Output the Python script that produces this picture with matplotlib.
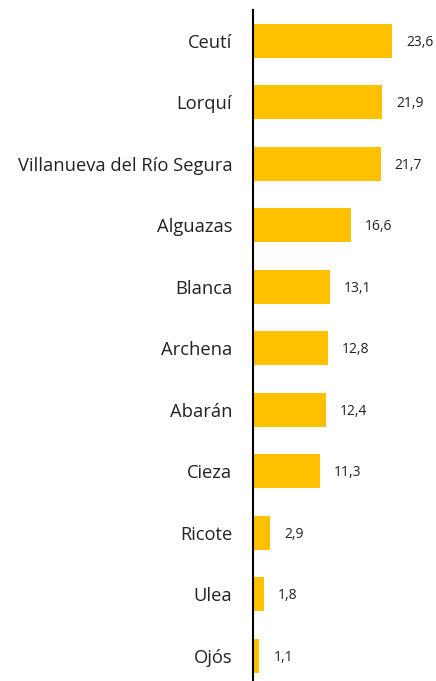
import matplotlib.pyplot as plt

# municipality values
municipios = [
    "Ceutí", "Lorquí", "Villanueva del Río Segura", "Alguazas", "Blanca",
    "Archena", "Abarán", "Cieza", "Ricote", "Ulea", "Ojós",
]
valores = [23.6, 21.9, 21.7, 16.6, 13.1, 12.8, 12.4, 11.3, 2.9, 1.8, 1.1]

plt.rcParams["font.family"] = ["Open Sans", "DejaVu Sans"]

fig = plt.figure(figsize=(4.36, 6.81), dpi=100)
ax = fig.add_axes([253 / 436, 0, (436 - 253) / 436, 671 / 681])

pos = list(range(len(municipios)))
ax.barh(pos, valores, height=0.55, color="#FFC000")

for p, v in zip(pos, valores):
    ax.annotate(
        f"{v:.1f}".replace(".", ","),
        xy=(v, p),
        xytext=(10, -1),
        textcoords="offset points",
        va="center",
        ha="left",
        fontsize=10,
        color="#222222",
    )

ax.set_ylim(len(municipios) - 1 + 0.41, -0.5)
ax.set_xlim(0, 31.07)

ax.set_yticks(pos)
ax.set_yticklabels(municipios, fontsize=13.2, color="#222222")
ax.tick_params(axis="y", length=0, pad=15)
ax.set_xticks([])

for s in ["top", "right", "bottom"]:
    ax.spines[s].set_visible(False)
ax.spines["left"].set_linewidth(1.5)
ax.spines["left"].set_color("black")

fig.savefig("out.png", dpi=100)
